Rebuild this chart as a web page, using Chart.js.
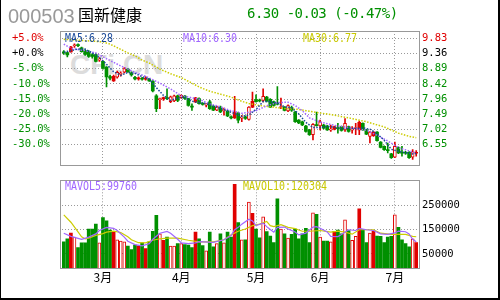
<!DOCTYPE html>
<html>
<head>
<meta charset="utf-8">
<script src="https://cdn.jsdelivr.net/npm/chart.js@4.4.1/dist/chart.umd.min.js"></script>
<style>
  html, body { margin: 0; padding: 0; background: #fff; }
  #wrap { position: relative; width: 500px; height: 300px; overflow: hidden; background: #fff; }
  .abs { position: absolute; white-space: nowrap; }
  #edge { left: 0; top: 0; width: 497px; height: 298px; border-left: 1px solid #000; border-right: 2px solid #000; border-bottom: 2px solid #000; }
  #code { left: 8px; top: 6px; font: 20px/20px 'Liberation Sans', Arial, sans-serif; color: #999; }
  #name { left: 78px; top: 6px; font: 16px/16px 'Noto Sans CJK SC', sans-serif; color: #000; }
  #quote { left: 247px; top: 5px; font: 14px/16px 'DejaVu Sans Mono', monospace; letter-spacing: -0.5px; color: #009000; }
  #mark { left: 70px; top: 51px; font: bold 28px/28px 'Liberation Sans', Arial, sans-serif; color: #dcdcdc; }
  .leg { font: 12px/12px 'DejaVu Sans Mono', monospace; transform: scaleX(0.83); transform-origin: 0 0; }
  canvas { position: absolute; left: 0; }
</style>
</head>
<body>
<div id="wrap">
  <div id="mark" class="abs">CFi.CN</div>
  <canvas id="price" width="500" height="176" style="top:0"></canvas>
  <canvas id="volume" width="500" height="130" style="top:170px"></canvas>
  <div id="code" class="abs">000503</div>
  <div id="name" class="abs">国新健康</div>
  <div id="quote" class="abs">6.30 -0.03 (-0.47%)</div>
  <div class="abs leg" style="left:65px;top:32px;color:#1a4a9a">MA5:6.28</div>
  <div class="abs leg" style="left:183px;top:32px;color:#a066ff">MA10:6.30</div>
  <div class="abs leg" style="left:303px;top:32px;color:#c8c800">MA30:6.77</div>
  <div class="abs leg" style="left:65px;top:180px;color:#a066ff">MAVOL5:99760</div>
  <div class="abs leg" style="left:243px;top:180px;color:#c8c800">MAVOL10:120304</div>
  <div id="edge" class="abs"></div>
</div>
<script>
// ---- data ----
const monthStart = [11, 33, 54, 72, 93];
const monthNames = ['3月', '4月', '5月', '6月', '7月'];

const basePrice = 9.36;
const pctTicks = [5, 0, -5, -10, -15, -20, -25, -30];
const pctLabels = ['+5.0%', '+0.0%', '-5.0%', '-10.0%', '-15.0%', '-20.0%', '-25.0%', '-30.0%'];
const priceLabels = ['9.83', '9.36', '8.89', '8.42', '7.96', '7.49', '7.02', '6.55'];

const volTicks = [250000, 150000, 50000];
const volLabels = ['250000', '150000', '50000'];

// g = down (green), r = up (hollow red), R = solid red
const kinds = ('ggRrgggggg' + 'rgggRrrrgg' + 'gRgRgggrRg' + 'rrgrgggRgg' + 'rggrgrggRg' +
               'rgrRggrggg' + 'grgrgggggg' + 'rgrggrRggr' + 'grrRggrRgg' + 'gggrggggrR').split('');

const open = [9.40,9.39,9.41,9.60,9.64,9.54,9.45,9.42,9.33,9.33,
  9.16,9.12,8.94,8.65,8.52,8.63,8.72,8.79,8.88,8.76,
  8.63,8.58,8.60,8.57,8.58,8.51,8.06,7.94,7.97,8.00,
  7.88,7.90,8.06,8.00,8.05,7.97,7.74,7.87,7.97,7.83,
  7.77,7.87,7.74,7.62,7.71,7.60,7.59,7.41,7.38,7.53,
  7.37,7.41,7.33,7.71,7.94,7.93,7.92,8.02,7.95,7.87,
  7.84,7.70,7.71,7.59,7.70,7.56,7.31,7.26,7.13,7.01,
  6.86,7.17,7.13,7.16,7.13,7.00,7.03,7.07,7.11,7.01,
  7.11,7.00,7.05,7.01,7.21,7.01,6.81,6.83,6.94,6.63,
  6.50,6.40,6.27,6.17,6.47,6.31,6.31,6.32,6.17,6.29];
const close = [9.38,9.32,9.56,9.62,9.60,9.42,9.33,9.27,9.27,9.12,
  9.19,8.91,8.64,8.60,8.66,8.78,8.75,8.90,8.80,8.70,
  8.58,8.60,8.57,8.59,8.52,8.21,7.66,7.97,7.99,7.97,
  8.03,8.06,7.92,8.07,7.98,7.76,7.71,8.00,7.82,7.79,
  7.79,7.66,7.62,7.72,7.56,7.62,7.44,7.38,7.56,7.31,
  7.39,7.36,7.71,7.89,7.88,7.90,8.04,7.89,7.71,7.76,
  7.80,7.72,7.61,7.76,7.62,7.26,7.22,7.16,6.96,6.86,
  7.18,7.14,7.26,7.06,7.01,7.02,7.11,7.05,6.99,7.21,
  6.96,7.02,7.07,7.24,7.01,6.88,6.94,6.94,6.68,6.47,
  6.40,6.37,6.15,6.50,6.30,6.29,6.29,6.15,6.33,6.30];
const high = [9.45,9.40,9.58,9.66,9.66,9.56,9.48,9.45,9.36,9.36,
  9.24,9.14,8.96,8.70,8.70,8.82,8.80,8.93,8.90,8.80,
  8.66,8.64,8.63,8.65,8.60,8.53,8.10,7.99,8.02,8.27,
  8.05,8.08,8.08,8.09,8.07,7.98,7.81,8.01,8.00,7.85,
  7.82,7.92,7.76,7.74,7.74,7.68,7.61,7.44,8.04,7.56,
  7.46,7.44,7.73,8.17,8.09,7.96,8.27,8.04,7.97,7.90,
  8.34,7.99,7.73,7.78,7.74,7.58,7.33,7.28,7.15,7.03,
  7.20,7.56,7.31,7.18,7.15,7.16,7.13,7.21,7.13,7.36,
  7.13,7.11,7.21,7.28,7.23,7.03,6.96,6.96,6.96,6.65,
  6.52,6.60,6.29,6.63,6.49,6.50,6.35,6.34,6.40,6.37];
const low = [9.33,9.26,9.40,9.55,9.57,9.40,9.30,9.24,9.22,9.10,
  9.12,8.88,8.33,8.55,8.50,8.60,8.66,8.76,8.78,8.66,
  8.55,8.54,8.54,8.54,8.50,8.18,7.57,7.66,7.92,7.94,
  7.85,7.88,7.88,7.98,7.95,7.74,7.61,7.85,7.80,7.77,
  7.72,7.64,7.60,7.60,7.54,7.46,7.42,7.35,7.36,7.22,
  7.26,7.33,7.31,7.69,7.86,7.87,7.87,7.87,7.69,7.74,
  7.78,7.66,7.59,7.57,7.58,7.24,7.20,7.14,6.94,6.84,
  6.70,7.12,7.01,7.04,6.99,6.96,7.01,6.91,6.97,6.96,
  6.94,6.91,6.86,6.86,6.99,6.86,6.61,6.81,6.66,6.45,
  6.38,6.30,6.13,6.15,6.28,6.20,6.25,6.13,6.10,6.20];

const volume = [99000,112000,135000,119000,76000,95000,95000,152000,152000,172000,
  95000,199000,186000,148000,142000,108000,103000,99000,82000,68000,
  86000,83000,95000,72000,99000,143000,208000,132000,106000,119000,
  82000,82000,92000,92000,88000,86000,76000,139000,112000,84000,
  63000,139000,79000,92000,132000,95000,139000,119000,335000,179000,
  108000,108000,263000,216000,152000,116000,202000,142000,123000,96000,
  276000,152000,132000,115000,130000,152000,112000,132000,155000,96000,
  219000,212000,119000,103000,103000,99000,143000,148000,132000,190000,
  146000,106000,122000,235000,151000,96000,135000,143000,123000,122000,
  96000,119000,122000,210000,159000,108000,92000,79000,112000,96000];

// moving averages, [day, value]
const ma5 = [[0,9.40],[2,9.45],[4,9.50],[6,9.50],[8,9.38],[10,9.24],[12,9.03],[14,8.80],[16,8.69],[18,8.78],
  [20,8.75],[22,8.65],[24,8.57],[26,8.31],[28,8.07],[30,7.92],[32,7.99],[34,8.01],[36,7.89],[38,7.85],
  [40,7.82],[42,7.74],[44,7.67],[46,7.59],[48,7.51],[50,7.42],[52,7.47],[54,7.64],[56,7.88],[58,7.88],
  [60,7.83],[62,7.72],[64,7.69],[66,7.50],[68,7.24],[70,7.08],[72,7.08],[74,7.12],[76,7.09],[78,7.04],
  [80,7.06],[82,7.05],[84,7.07],[86,7.03],[88,6.89],[90,6.69],[92,6.41],[94,6.35],[96,6.31],[98,6.27],[99,6.28]];
const ma10 = [[0,9.65],[2,9.52],[6,9.45],[9,9.38],[12,9.20],[16,8.98],[20,8.78],[23,8.66],[27,8.45],[30,8.27],
  [33,8.06],[35,8.02],[38,7.95],[41,7.81],[44,7.72],[47,7.60],[50,7.52],[52,7.55],[54,7.60],[57,7.75],
  [60,7.85],[63,7.86],[65,7.76],[67,7.60],[69,7.38],[72,7.25],[76,7.15],[80,7.08],[85,7.00],[88,6.84],
  [91,6.67],[94,6.46],[97,6.36],[99,6.30]];
const ma30 = [[0,9.80],[11,9.72],[13,9.65],[16,9.49],[18,9.38],[20,9.29],[22,9.16],[24,9.07],[27,8.88],[30,8.74],
  [33,8.62],[36,8.45],[38,8.33],[41,8.20],[44,8.11],[47,8.02],[50,7.89],[52,7.82],[55,7.76],[58,7.72],
  [62,7.67],[66,7.64],[68,7.60],[71,7.55],[76,7.46],[80,7.38],[85,7.26],[90,7.10],[94,6.91],[97,6.81],[99,6.77]];
const mavol5 = [[0,135000],[2,122000],[5,110000],[7,119000],[9,132000],[10,146000],[12,159000],[14,155000],[15,146000],[17,119000],
  [18,102000],[20,88000],[22,83000],[24,92000],[25,110000],[27,135000],[29,142000],[30,135000],[32,110000],[33,95000],
  [35,92500],[37,95000],[38,100000],[42,97000],[45,108000],[47,125000],[48,149000],[49,159000],[50,172000],[52,192000],
  [53,185000],[54,166000],[56,176000],[57,162000],[58,150000],[59,139000],[60,159000],[62,160000],[63,152000],[65,140000],
  [66,128000],[68,135000],[70,160000],[71,162000],[72,155000],[74,140000],[75,122000],[77,121000],[78,130000],[80,149000],
  [82,146000],[83,155000],[85,149000],[87,146000],[89,132000],[91,130000],[93,136000],[94,143000],[96,141000],[97,132000],
  [98,110000],[99,99760]];
const mavol10 = [[0,210000],[2,180000],[4,140000],[5,120000],[6,112000],[7,115000],[9,126000],[11,133000],[12,139000],[14,143000],
  [16,138000],[18,120000],[19,108000],[21,96000],[23,95000],[25,106000],[27,112000],[29,115000],[32,115000],[35,106000],
  [38,99000],[42,99000],[45,108000],[47,128000],[49,143000],[51,152000],[53,166000],[55,172000],[57,183000],[58,166000],
  [59,162000],[61,170000],[63,159000],[65,154000],[66,148000],[67,143000],[69,143000],[72,146000],[75,139000],[77,143000],
  [79,139000],[81,131000],[83,149000],[87,149000],[89,135000],[92,130000],[96,130000],[98,122000],[99,120304]];

// ---- drawing ----
const GREEN = '#009000';
const RED = '#e00000';
const GRID = '#999';
const days = close.map((_, i) => i);
const tickFont = { family: 'DejaVu Sans Mono', size: 10.5 };

const priceMin = 5.906, priceMax = 10.055;
const volMin = -12000, volMax = 352000;

const pts = arr => arr.map(([x, y]) => ({ x, y }));
const fillOf = k => k === 'g' ? GREEN : k === 'R' ? RED : '#fff';
const lineOf = k => k === 'g' ? GREEN : RED;
const signColor = ctx => ctx.index === 0 ? RED : ctx.index === 1 ? '#000' : GREEN;

const framePlugin = {
  id: 'frame',
  afterDraw(chart) {
    const { ctx, chartArea: a } = chart;
    const l = Math.round(a.left) - 2, r = Math.round(a.right) + 2;
    const t = Math.round(a.top), b = Math.round(a.bottom);
    ctx.save();
    ctx.strokeStyle = GRID;
    ctx.lineWidth = 1;
    ctx.strokeRect(l + 0.5, t + 0.5, r - l - 1, b - t - 1);
    ctx.restore();
  }
};

function dayAxis(showLabels) {
  return {
    type: 'linear',
    min: -0.5,
    max: 99.5,
    offset: false,
    afterBuildTicks: s => { s.ticks = monthStart.map(v => ({ value: v })); },
    afterFit: s => { s.height = showLabels ? 18 : 0; },
    grid: { color: GRID, drawTicks: false, offset: false },
    border: { display: false, dash: [1, 2] },
    ticks: {
      display: showLabels,
      autoSkip: false,
      maxRotation: 0,
      padding: 1,
      color: '#000',
      font: { family: 'Noto Sans CJK SC', size: 12 },
      callback: (v, i) => monthNames[i]
    }
  };
}

function maLine(arr, color, yAxisID, dotted) {
  return {
    type: 'line',
    data: pts(arr),
    yAxisID,
    borderColor: color,
    borderWidth: dotted ? 1.5 : 1.2,
    borderDash: dotted ? [1.5, 1.5] : [],
    pointRadius: 0,
    tension: 0
  };
}

const common = {
  responsive: false,
  animation: false,
  devicePixelRatio: 1,
  events: [],
  plugins: { legend: { display: false }, tooltip: { enabled: false } }
};

new Chart(document.getElementById('price'), {
  type: 'bar',
  data: {
    labels: days,
    datasets: [
      maLine(ma5, '#1a4a9a', 'y', true),
      maLine(ma10, '#a066ff', 'y', true),
      maLine(ma30, '#cccc00', 'y', true),
      {
        data: days.map(i => [Math.min(open[i], close[i]), Math.max(open[i], close[i])]),
        yAxisID: 'y',
        backgroundColor: kinds.map(fillOf),
        borderColor: kinds.map(lineOf),
        borderWidth: kinds.map(k => k === 'r' ? 1 : 0),
        borderSkipped: false,
        barThickness: 3,
        maxBarThickness: 3,
        minBarLength: 1,
        grouped: false
      },
      {
        data: days.map(i => [low[i], high[i]]),
        yAxisID: 'y',
        backgroundColor: kinds.map(lineOf),
        barThickness: 1,
        maxBarThickness: 1,
        grouped: false
      }
    ]
  },
  options: {
    ...common,
    layout: { padding: { left: 12, right: 0, top: 31, bottom: 8 } },
    scales: {
      x: dayAxis(false),
      yPct: {
        type: 'linear',
        position: 'left',
        min: (priceMin / basePrice - 1) * 100,
        max: (priceMax / basePrice - 1) * 100,
        afterBuildTicks: s => { s.ticks = pctTicks.map(v => ({ value: v })); },
        afterFit: s => { s.width = 50; },
        grid: { display: false },
        border: { display: false },
        ticks: { crossAlign: 'far', autoSkip: false, font: tickFont, color: signColor, callback: (v, i) => pctLabels[i] }
      },
      y: {
        type: 'linear',
        position: 'right',
        min: priceMin,
        max: priceMax,
        afterBuildTicks: s => { s.ticks = pctTicks.map(p => ({ value: basePrice * (1 + p / 100) })); },
        afterFit: s => { s.width = 82; },
        grid: { color: GRID, drawTicks: false },
        border: { display: false, dash: [1, 2] },
        ticks: { padding: 4, autoSkip: false, font: tickFont, color: signColor, callback: (v, i) => priceLabels[i] }
      }
    }
  },
  plugins: [framePlugin]
});

new Chart(document.getElementById('volume'), {
  type: 'bar',
  data: {
    labels: days,
    datasets: [
      maLine(mavol5, '#a066ff', 'y', false),
      maLine(mavol10, '#cccc00', 'y', false),
      {
        data: volume,
        base: volMin,
        backgroundColor: kinds.map(fillOf),
        borderColor: kinds.map(lineOf),
        borderWidth: kinds.map(k => k === 'r' ? 1 : 0),
        borderSkipped: false,
        barThickness: 3,
        maxBarThickness: 3,
        grouped: false
      }
    ]
  },
  options: {
    ...common,
    layout: { padding: { left: 62, right: 0, top: 8, bottom: 13 } },
    scales: {
      x: dayAxis(true),
      y: {
        type: 'linear',
        position: 'right',
        min: volMin,
        max: volMax,
        afterBuildTicks: s => { s.ticks = volTicks.map(v => ({ value: v })); },
        afterFit: s => { s.width = 82; },
        grid: { color: GRID, drawTicks: false },
        border: { display: false, dash: [1, 2] },
        ticks: { padding: 4, autoSkip: false, font: tickFont, color: '#000', callback: (v, i) => volLabels[i] }
      }
    }
  },
  plugins: [framePlugin]
});
</script>
</body>
</html>
